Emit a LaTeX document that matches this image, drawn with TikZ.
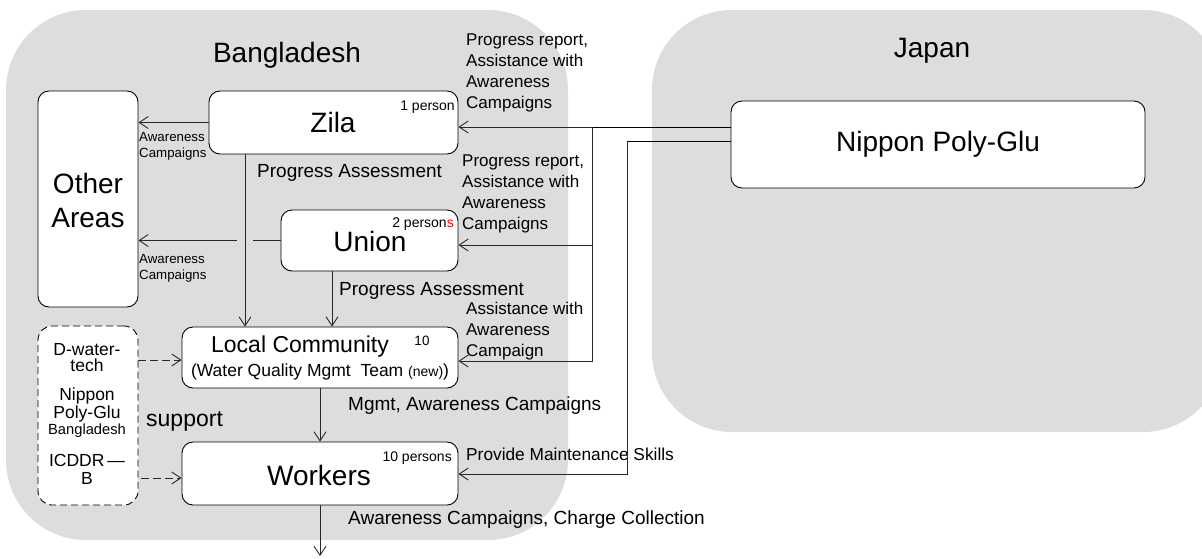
\documentclass[tikz,border=0pt]{standalone}
\usepackage{fontspec}
\setmainfont{Liberation Sans}
\usetikzlibrary{arrows.meta,calc}
\definecolor{regfill}{RGB}{221,221,221}
\definecolor{linec}{RGB}{40,40,40}
\newcommand{\fsz}[2]{\fontsize{#1}{#2}\selectfont}
\tikzset{
  region/.style={fill=regfill, rounded corners=80pt},
  box/.style={draw=black, fill=white, rounded corners=11pt, line width=0.9pt, inner sep=0pt},
  dbox/.style={draw=black, fill=white, rounded corners=14pt, line width=0.9pt, inner sep=0pt, dash pattern=on 7pt off 4pt},
  conn/.style={draw=linec, line width=0.9pt},
  arr/.style={conn, -{Straight Barb[length=9pt,width=12pt,line width=0.9pt]}},
  darr/.style={arr, dash pattern=on 8pt off 4pt},
  big/.style={font=\fsz{28}{34}, inner sep=0pt},
  lbl/.style={font=\fsz{17}{21}, inner sep=0pt, align=left, anchor=west},
  mid/.style={font=\fsz{19}{23}, inner sep=0pt, anchor=west},
  small/.style={font=\fsz{13.3}{16}, inner sep=0pt, align=left, anchor=west},
  cnt/.style={font=\fsz{14}{16}, inner sep=0pt},
}
\begin{document}
\begin{tikzpicture}[x=1pt,y=-1pt]
\useasboundingbox (0,0) rectangle (1202,558);
% regions
\fill[region] (6,10) rectangle (568,540);
\fill[region] (652,10) rectangle (1223,432);
\node[big] (tbd) at (287,55) {Bangladesh};
\node[big] (tjp) at (932,51) {Japan};
% boxes
\node[box, minimum width=249pt, minimum height=63pt] (zila) at (333.5,122.5) {};
\node[box, minimum width=100pt, minimum height=216pt] (oa) at (88,199) {};
\node[box, minimum width=177pt, minimum height=61pt] (union) at (369.5,240.5) {};
\node[box, minimum width=276pt, minimum height=61pt] (lc) at (320,357.5) {};
\node[box, minimum width=276pt, minimum height=63pt] (wk) at (320,473.5) {};
\node[dbox, minimum width=100pt, minimum height=179pt] (sup) at (88,415.5) {};
\node[box, minimum width=414pt, minimum height=87pt] (nip) at (938,144.5) {};
% box texts
\node[big] (zilat) at (333,122) {Zila};
\node[cnt, anchor=east] (zilan) at (455,107) {1 person};
\node[big, align=center] (oat) at (88,200) {Other\\Areas};
\node[big] (uniont) at (370,241) {Union};
\node[cnt, anchor=east] (unionn) at (454,224) {2 person\textcolor{red}{s}};
\node[font=\fsz{23}{27}, inner sep=0pt] (lct) at (300,347) {Local Community};
\node[cnt, font=\fsz{13.5}{16}] (lcn) at (422,341) {10};
\node[font=\fsz{17.5}{20}, inner sep=0pt] (lcs) at (320,372) {(Water Quality Mgmt\ \ Team {\fsz{14}{16}(new)})};
\node[big] (wkt) at (319,475) {Workers};
\node[cnt, anchor=east] (wkn) at (452,458) {10 persons};
\node[big] (nipt) at (938,144) {Nippon Poly-Glu};
\node[font=\fsz{17.5}{16}, inner sep=0pt, align=center] (s1) at (87,358) {D-water-\\tech};
\node[font=\fsz{17.5}{14}, inner sep=0pt, align=center] (s2) at (87,405) {Nippon\\Poly-Glu};
\node[font=\fsz{14.7}{16}, inner sep=0pt] (s3) at (87,431) {Bangladesh};
\node[font=\fsz{17.5}{18}, inner sep=0pt, align=center] (s4) at (87,469) {ICDDR\,—\\B};
% labels
\node[small] (l1) at (139,146) {Awareness\\Campaigns};
\node[small] (l2) at (139,268) {Awareness\\Campaigns};
\node[mid] (pa1) at (257,173) {Progress Assessment};
\node[mid] (pa2) at (339,291) {Progress Assessment};
\node[lbl] (r1) at (466,73) {Progress report,\\Assistance with\\Awareness\\Campaigns};
\node[lbl] (r2) at (462,193.5) {Progress report,\\Assistance with\\Awareness\\Campaigns};
\node[lbl] (r3) at (466,331) {Assistance with\\Awareness\\Campaign};
\node[lbl, font=\fsz{17.3}{21}] (r4) at (466,454) {Provide Maintenance Skills};
\node[mid] (mg) at (348,406) {Mgmt, Awareness Campaigns};
\node[mid] (cc) at (348,520) {Awareness Campaigns, Charge Collection};
\node[font=\fsz{23}{27}, inner sep=0pt, anchor=west] (spt) at (146,421) {support};
% helper coordinates
\coordinate (vz) at (245,0);
\coordinate (vu) at (332,0);
\coordinate (j1) at (592,127);
\coordinate (j2) at (627,141);
\coordinate (gapr) at (253,240.5);
\coordinate (gapl) at (237,240.5);
\coordinate (out) at (320,556);
% connectors
\draw[arr] (zila.west) -- (oa.east |- zila.west);
\draw[conn] (union.west) -- (gapr);
\draw[arr] (gapl) -- (oa.east |- gapl);
\draw[arr] (zila.south -| vz) -- (lc.north -| vz);
\draw[arr] (union.south -| vu) -- (lc.north -| vu);
\draw[arr] (lc.south) -- (wk.north);
\draw[arr] (wk.south) -- (out);
\draw[darr] (sup.east |- 0,360) -- (lc.west |- 0,360);
\draw[darr] (141,478) -- (wk.west |- 0,478);
\draw[conn, draw=black] (nip.west |- j1) -- (j1);
\draw[arr] (j1) -- (zila.east |- j1);
\draw[arr] (j1) |- (union.east |- 0,245);
\draw[arr] (j1) |- (lc.east |- 0,361);
\draw[conn, draw=black] (nip.west |- j2) -- (j2);
\draw[arr] (j2) |- (wk.east |- 0,474);
\end{tikzpicture}
\end{document}
